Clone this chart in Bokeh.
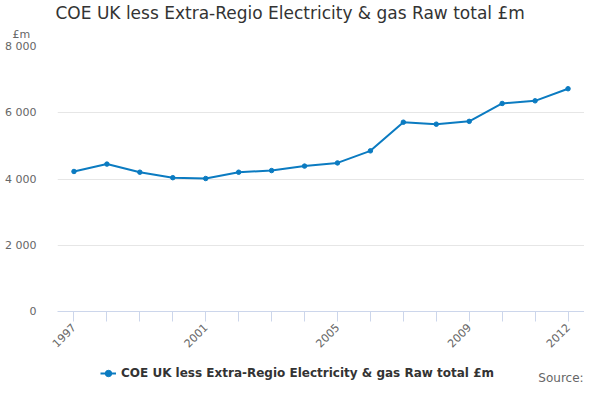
import math
from bokeh.plotting import figure
from bokeh.layouts import column
from bokeh.models import (FixedTicker, Label, Legend, LegendItem, Range1d, ColumnDataSource, Title)
from bokeh.embed import file_html
from bokeh.resources import INLINE

years = list(range(1997, 2013))
values = [4227, 4450, 4205, 4040, 4015, 4205, 4255, 4390, 4485, 4850,
          5715, 5655, 5740, 6280, 6360, 6725]
y_ticks = [0, 2000, 4000, 6000, 8000]
y_tick_labels = ["0", "2 000", "4 000", "6 000", "8 000"]
x_label_years = [1997, 2001, 2005, 2009, 2012]
title_text = "COE UK less Extra-Regio Electricity & gas Raw total £m"
series_name = "COE UK less Extra-Regio Electricity & gas Raw total £m"
unit_text = "£m"
source_text = "Source:"

FONT = "DejaVu Sans"
LINE_COLOR = "#0b7bc1"

# ---------------- main chart ----------------
p = figure(width=584, height=355, output_backend="svg", toolbar_location=None,
           title=None,
           x_range=Range1d(1996.5, 2012.5), y_range=Range1d(0, 8000),
           min_border_left=57, min_border_right=0, min_border_top=46,
           min_border_bottom=44)
p.outline_line_color = None
p.background_fill_color = "white"
p.border_fill_color = "white"

src = ColumnDataSource(dict(x=years, y=values))
p.line("x", "y", source=src, line_color=LINE_COLOR, line_width=2)
p.scatter("x", "y", source=src, size=4.5, fill_color=LINE_COLOR, line_color=LINE_COLOR)

xa = p.xaxis[0]
xa.ticker = FixedTicker(ticks=years)
xa.major_label_overrides = {y: (str(y) if y in x_label_years else "") for y in years}
xa.major_label_orientation = math.pi / 4
xa.axis_line_color = "#ccd6eb"
xa.major_tick_line_color = "#ccd6eb"
xa.major_tick_out = 10
xa.major_tick_in = 0
xa.minor_tick_line_color = None
xa.major_label_text_font = FONT
xa.major_label_text_font_size = "11px"
xa.major_label_text_color = "#666666"
xa.major_label_standoff = 4

ya = p.yaxis[0]
ya.ticker = FixedTicker(ticks=y_ticks)
ya.major_label_overrides = dict(zip(y_ticks, y_tick_labels))
ya.axis_line_color = None
ya.major_tick_line_color = None
ya.minor_tick_line_color = None
ya.major_label_text_font = FONT
ya.major_label_text_font_size = "11px"
ya.major_label_text_color = "#666666"
ya.major_label_standoff = 15

p.xgrid.grid_line_color = None
p.ygrid.grid_line_color = "#e6e6e6"
p.ygrid.ticker = FixedTicker(ticks=y_ticks)

p.add_layout(Title(text=unit_text, align="left", offset=-45, standoff=12,
                   text_font=FONT, text_font_size="11px", text_color="#666666",
                   text_font_style="normal"), "above")
p.add_layout(Title(text=title_text, align="left", offset=-2, standoff=-6,
                   text_font=FONT, text_font_size="17px", text_color="#333333",
                   text_font_style="normal"), "above")

# ---------------- footer: legend + source ----------------
f = figure(width=584, height=29, output_backend="svg", toolbar_location=None,
           x_axis_type=None, y_axis_type=None,
           x_range=Range1d(0, 584), y_range=Range1d(0, 29),
           min_border=0)
f.outline_line_color = None
f.xgrid.grid_line_color = None
f.ygrid.grid_line_color = None
f.background_fill_color = "white"
f.border_fill_color = "white"

# series renderers for the legend key (data lie outside this footer's ranges)
fl = f.line("x", "y", source=src, line_color=LINE_COLOR, line_width=2)
fs = f.scatter("x", "y", source=src, size=4.5, fill_color=LINE_COLOR, line_color=LINE_COLOR)

legend = Legend(items=[LegendItem(label=series_name, renderers=[fl, fs])],
                location=(43, 3), orientation="horizontal",
                label_text_font=FONT, label_text_font_size="12px",
                label_text_font_style="bold", label_text_color="#333333",
                background_fill_alpha=0, border_line_color=None,
                glyph_width=16, glyph_height=16, label_standoff=5,
                padding=0, margin=0)
f.add_layout(legend, "center")

f.add_layout(Label(x=583, y=7, text=source_text,
                   text_font=FONT, text_font_size="12px", text_color="#666666",
                   text_align="right", text_baseline="middle"))

layout = column(p, f, spacing=0)
open("out.html", "w").write(file_html(layout, INLINE))
